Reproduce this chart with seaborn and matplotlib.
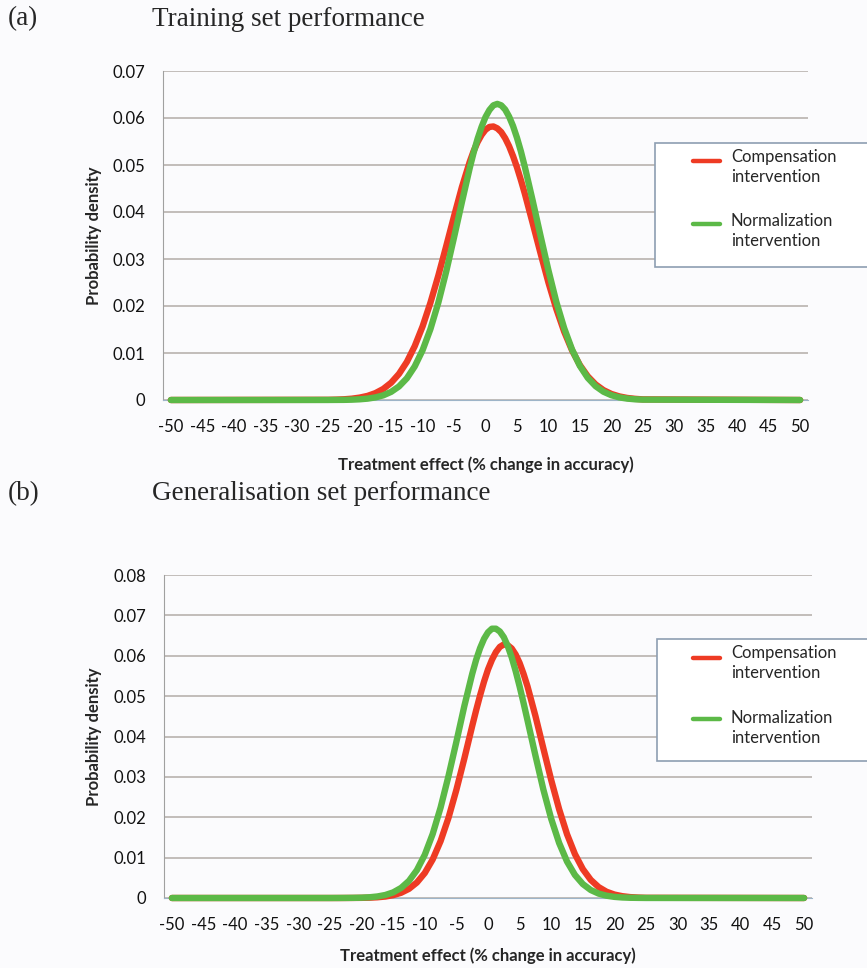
import numpy as np
import pandas as pd
import matplotlib
matplotlib.use("Agg")
import matplotlib.pyplot as plt
import seaborn as sns
from matplotlib.lines import Line2D
from matplotlib.patches import Rectangle

# treatment effect (% change in accuracy); flat zero tails out to +/-50
x_effect = [-50, -25, -23.75, -22.5, -21.25, -20, -18.75, -17.5, -16.25, -15, -13.75,
            -12.5, -11.25, -10, -8.75, -7.5, -6.25, -5, -3.75, -2.5, -1.875, -1.25,
            -0.625, 0, 0.625, 1.25, 1.875, 2.5, 3.125, 3.75, 4.375, 5, 5.625, 6.25,
            7.5, 8.75, 10, 11.25, 12.5, 13.75, 15, 16.25, 17.5, 18.75, 20, 21.25,
            22.5, 23.75, 25, 50]

# (a) training set
train_comp = [0, 0.00004, 0.00008, 0.00015, 0.00028, 0.00051, 0.00087, 0.00146, 0.00235,
              0.00367, 0.00555, 0.0081, 0.01145, 0.01565, 0.0207, 0.02645, 0.0327, 0.0391,
              0.0453, 0.0507, 0.0530, 0.0549, 0.0564, 0.0575, 0.0581, 0.0582, 0.0578,
              0.0570, 0.0557, 0.0540, 0.0519, 0.0495, 0.0468, 0.0439,
              0.0376, 0.0312, 0.0250, 0.0194, 0.01456, 0.01057, 0.00742, 0.00504,
              0.00331, 0.0021, 0.00129, 0.00077, 0.00044, 0.00025, 0.00013, 0]
train_norm = [0, 0.00001, 0.00002, 0.00003, 0.00007, 0.00015, 0.00029, 0.00055, 0.00099,
              0.00173, 0.00288, 0.00462, 0.00714, 0.01059, 0.0151, 0.0207, 0.0273, 0.0346,
              0.0421, 0.0494, 0.0527, 0.0556, 0.0581, 0.0602, 0.0617, 0.0627, 0.0630,
              0.0627, 0.0618, 0.0603, 0.0583, 0.0558, 0.0529, 0.0496,
              0.0424, 0.0349, 0.0276, 0.0209, 0.0153, 0.01075, 0.00726, 0.00471,
              0.00294, 0.00176, 0.00102, 0.00056, 0.0003, 0.00015, 0.00008, 0]

# (b) generalisation set
gen_comp = [0, 0, 0, 0.00001, 0.00002, 0.00004, 0.00008, 0.00018, 0.00036, 0.0007,
            0.00129, 0.00227, 0.00384, 0.00619, 0.00955, 0.01409, 0.01986, 0.0268,
            0.0345, 0.0426, 0.0465, 0.0502, 0.0536, 0.0566, 0.0590, 0.0609, 0.0622,
            0.0628, 0.0626, 0.0618, 0.0603, 0.0582, 0.0555, 0.0524,
            0.0451, 0.0371, 0.0292, 0.022, 0.0158, 0.01087, 0.00715, 0.00449, 0.0027,
            0.00155, 0.00085, 0.00045, 0.00022, 0.00011, 0.00005, 0]
gen_norm = [0, 0, 0.00001, 0.00002, 0.00004, 0.00008, 0.00018, 0.00038, 0.00074, 0.00139,
            0.00249, 0.00424, 0.0069, 0.01071, 0.01586, 0.0224, 0.0302, 0.0387, 0.0475,
            0.0555, 0.0590, 0.0619, 0.0642, 0.0658, 0.0667, 0.0667, 0.0660,
            0.0646, 0.0624, 0.0596, 0.0562, 0.0524, 0.0483, 0.0440,
            0.0353, 0.0269, 0.0196, 0.01363, 0.00903, 0.00571, 0.00345, 0.00198,
            0.00109, 0.00057, 0.00028, 0.00013, 0.00006, 0.00003, 0.00001, 0]

series_names = ["Compensation intervention", "Normalization intervention"]
colors = {"Compensation intervention": "#ee3b24", "Normalization intervention": "#5cb947"}

W, H = 867, 968
BG = "#fbfbfd"
GRID = "#b3aca8"
XAXIS = "#9db4c8"

sns.set_style("white")
plt.rcParams["font.family"] = ["Lato", "DejaVu Sans"]
plt.rcParams["axes.unicode_minus"] = False


def fx(px):
    return px / W


def fy(py):
    return 1 - py / H


def draw_panel(ax, comp, norm, ymax, xlabelpad):
    df = pd.DataFrame({
        "effect": x_effect * 2,
        "density": comp + norm,
        "series": [series_names[0]] * len(comp) + [series_names[1]] * len(norm),
    })
    sns.lineplot(data=df, x="effect", y="density", hue="series", palette=colors,
                 hue_order=series_names, linewidth=4.6, legend=False, ax=ax,
                 clip_on=False, solid_capstyle="round", solid_joinstyle="round", zorder=5)
    ax.set_facecolor(BG)
    ax.set_xlim(-51.25, 51.25)
    ax.set_ylim(0, ymax)
    xt = list(range(-50, 51, 5))
    ax.set_xticks(xt)
    ax.set_xticklabels([str(v) for v in xt])
    ax.set_xticks(np.arange(-51.25, 51.3, 2.5), minor=True)
    yt = np.round(np.arange(0, ymax + 0.001, 0.01), 2)
    ax.set_yticks(yt)
    ax.set_yticklabels(["0" if v == 0 else f"{v:.2f}" for v in yt])
    ax.tick_params(axis="x", which="major", length=0, pad=14, labelsize=12, colors="#111111")
    ax.tick_params(axis="x", which="minor", length=5, width=1, color=XAXIS)
    ax.tick_params(axis="y", which="major", length=6, width=1, color="#a0a0a0",
                   pad=7, labelsize=12, labelcolor="#111111")
    ax.grid(axis="y", color=GRID, linewidth=1.1)
    ax.set_axisbelow(True)
    for s in ["top", "right"]:
        ax.spines[s].set_visible(False)
    ax.spines["left"].set_color("#a0a0a0")
    ax.spines["bottom"].set_color(XAXIS)
    ax.set_xlabel("Treatment effect (% change in accuracy)", fontsize=12,
                  fontweight="bold", labelpad=xlabelpad)
    ax.set_ylabel("Probability density", fontsize=12, fontweight="bold")
    ax.yaxis.set_label_coords(-0.095, 0.5)


def draw_legend(fig, box, line_y, text_y):
    x0, y0, x1, y1 = box
    fig.add_artist(Rectangle((fx(x0), fy(y1)), fx(x1 - x0), (y1 - y0) / H,
                             transform=fig.transFigure, facecolor="white",
                             edgecolor="#8d9eb2", linewidth=1.2, clip_on=False, zorder=10))
    for name, ly, ty in zip(series_names, line_y, text_y):
        fig.add_artist(Line2D([fx(693), fx(720)], [fy(ly), fy(ly)], transform=fig.transFigure,
                              color=colors[name], linewidth=3.2, zorder=11))
        first, second = name.split(" ")
        fig.text(fx(731), fy(ty), first, fontsize=12, va="center", ha="left", zorder=11)
        fig.text(fx(731), fy(ty + 20), second, fontsize=12, va="center", ha="left", zorder=11)


fig = plt.figure(figsize=(W / 100, H / 100), dpi=100)
fig.patch.set_facecolor(BG)

ax_a = fig.add_axes([fx(163), fy(400), fx(645), 329 / H])
draw_panel(ax_a, train_comp, train_norm, 0.07, 15)
ax_b = fig.add_axes([fx(164), fy(898), fx(648), 323 / H])
draw_panel(ax_b, gen_comp, gen_norm, 0.08, 10)

serif = ["Liberation Serif", "DejaVu Serif"]
fig.text(fx(8), fy(19), "(a)", family=serif, fontsize=19.5, va="center")
fig.text(fx(152), fy(19), "Training set performance", family=serif, fontsize=19.5, va="center")
fig.text(fx(8), fy(494), "(b)", family=serif, fontsize=19.5, va="center")
fig.text(fx(152), fy(494), "Generalisation set performance", family=serif, fontsize=19.5,
         va="center")

draw_legend(fig, (655, 143, 880, 267), (161, 224), (157, 221))
draw_legend(fig, (657, 639, 880, 761), (658, 719), (653, 718))

fig.savefig("out.png", dpi=100, facecolor=fig.get_facecolor())
